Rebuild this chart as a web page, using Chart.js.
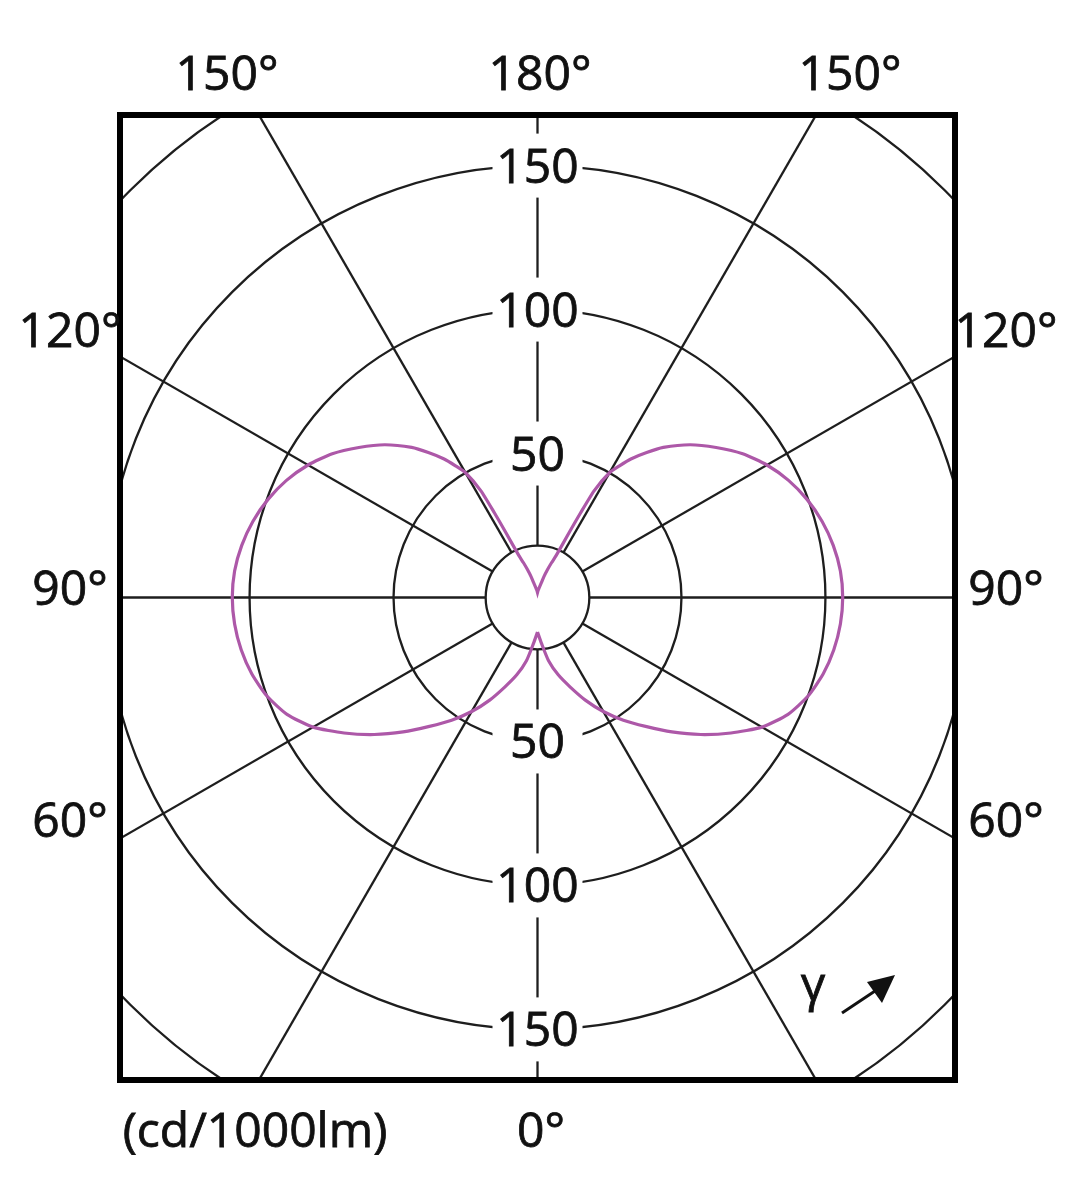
<!DOCTYPE html>
<html>
<head>
<meta charset="utf-8">
<script src="https://cdn.jsdelivr.net/npm/chart.js@4"></script>
<style>
    body { margin: 0; background: #fff; }
    #wrap { width: 1089px; height: 1200px; position: relative; }
</style>
</head>
<body>
<div id="wrap"><canvas id="polar"></canvas></div>
<script>
// gamma angle (0 = down, 180 = up) and intensity in cd/1000lm
const angles = [0, 5, 10, 15, 20, 25, 30, 35, 40, 45, 50, 55, 60, 65, 70, 75, 80, 85, 90,
    95, 100, 105, 110, 115, 120, 125, 130, 135, 140, 143, 146, 148, 150, 152, 153, 154,
    156, 158, 160, 163, 165, 170, 175, 180];
const intensity = [12, 16, 22.4, 27.8, 33, 39.3, 45.7, 52, 58.4, 66, 74, 82, 90, 96, 100, 102.7, 104.5, 105.6, 106,
    105.6, 104.3, 102.3, 99.6, 96.2, 92, 87, 81, 75, 68, 63, 58, 54, 50, 42, 33, 25,
    16, 13, 10.5, 7.5, 5.5, 3.5, 2.5, 1.7];

const rings = [50, 100, 150, 200];
const ringLabels = ["50", "100", "150"];
const innerRing = 18;
const spokes = [0, 30, 60, 90, 120, 150, 180, 210, 240, 270, 300, 330];
const topLabels = ["150°", "180°", "150°"];
const sideLabels = ["120°", "90°", "60°"];
const unitLabel = "(cd/1000lm)";
const zeroLabel = "0°";

const FONT = "48px 'Open Sans'";
const canvas = document.querySelector("#polar");

function toXY(gamma, value) {
    const a = gamma * Math.PI / 180;
    return { x: value * Math.sin(a), y: -value * Math.cos(a) };
}

function buildCurve() {
    let points = [];
    for (let i = 0; i < angles.length; i++)
        points.push(toXY(angles[i], intensity[i]));
    for (let i = angles.length - 1; i >= 0; i--) {
        let p = toXY(angles[i], intensity[i]);
        points.push({ x: -p.x, y: p.y });
    }
    return points;
}

const gridPlugin = {
    id: "polarGrid",
    beforeDatasetsDraw(chart) {
        const { ctx, chartArea, scales } = chart;
        const cx = scales.x.getPixelForValue(0);
        const cy = scales.y.getPixelForValue(0);
        const unit = scales.x.getPixelForValue(1) - cx;

        ctx.save();
        ctx.beginPath();
        ctx.rect(chartArea.left, chartArea.top, chartArea.width, chartArea.height);
        ctx.clip();

        ctx.strokeStyle = "#1e1e1e";
        ctx.lineWidth = 2.3;

        for (let r of rings.concat([innerRing])) {
            ctx.beginPath();
            ctx.arc(cx, cy, r * unit, 0, Math.PI * 2);
            ctx.stroke();
        }

        for (let s of spokes) {
            const a = s * Math.PI / 180;
            const dx = Math.sin(a), dy = Math.cos(a);
            ctx.beginPath();
            ctx.moveTo(cx + dx * innerRing * unit, cy + dy * innerRing * unit);
            ctx.lineTo(cx + dx * 400 * unit, cy + dy * 400 * unit);
            ctx.stroke();
        }

        // ring value labels on the vertical axis, with white gaps
        ctx.font = FONT;
        ctx.textAlign = "center";
        ctx.textBaseline = "alphabetic";
        for (let i = 0; i < ringLabels.length; i++) {
            const r = rings[i] * unit;
            for (let y of [cy - r, cy + r]) {
                ctx.fillStyle = "#fff";
                ctx.fillRect(cx - 45, y - 32, 90, 64);
                ctx.fillStyle = "#111";
                ctx.fillText(ringLabels[i], cx, y + 17);
                ctx.strokeStyle = "#111";
                ctx.lineWidth = 0.8;
                ctx.strokeText(ringLabels[i], cx, y + 17);
                ctx.strokeStyle = "#1e1e1e";
                ctx.lineWidth = 2.3;
            }
        }
        ctx.restore();
    },
    afterDraw(chart) {
        const { ctx, chartArea } = chart;
        ctx.save();
        ctx.strokeStyle = "#000";
        ctx.lineWidth = 6;
        ctx.strokeRect(chartArea.left, chartArea.top, chartArea.width, chartArea.height);

        ctx.font = FONT;
        ctx.fillStyle = "#111";
        ctx.strokeStyle = "#111";
        ctx.lineWidth = 0.8;
        ctx.textAlign = "center";
        ctx.textBaseline = "alphabetic";

        function label(text, x, y) {
            ctx.fillText(text, x, y);
            ctx.strokeText(text, x, y);
        }

        const topX = [227, 540, 850];
        for (let i = 0; i < topLabels.length; i++)
            label(topLabels[i], topX[i], 90);

        const sideY = [347, 605, 837];
        for (let i = 0; i < sideLabels.length; i++) {
            label(sideLabels[i], 70, sideY[i]);
            label(sideLabels[i], 1006, sideY[i]);
        }

        label(unitLabel, 255, 1147);
        label(zeroLabel, 541, 1147);

        // gamma direction marker
        label("γ", 813, 1001);
        ctx.strokeStyle = "#111";
        ctx.lineWidth = 3;
        ctx.beginPath();
        ctx.moveTo(842, 1013);
        ctx.lineTo(878, 989);
        ctx.stroke();
        ctx.beginPath();
        ctx.moveTo(867, 982);
        ctx.lineTo(895, 975);
        ctx.lineTo(882, 1003);
        ctx.closePath();
        ctx.fill();
        ctx.restore();
    }
};

new Chart(canvas, {
    type: "scatter",
    data: {
        datasets: [{
            label: "Intensity",
            data: buildCurve(),
            showLine: true,
            borderColor: "#ad58a8",
            borderWidth: 3.2,
            pointRadius: 0,
            tension: 0.2,
            fill: false
        }]
    },
    options: {
        responsive: true,
        maintainAspectRatio: false,
        animation: false,
        layout: {
            padding: { left: 120, right: 134, top: 115, bottom: 120 }
        },
        scales: {
            x: { type: "linear", min: -145, max: 145, display: false },
            y: { type: "linear", min: -167.5, max: 167.5, display: false }
        },
        plugins: {
            legend: { display: false },
            tooltip: { enabled: false }
        }
    },
    plugins: [gridPlugin]
});
</script>
</body>
</html>
